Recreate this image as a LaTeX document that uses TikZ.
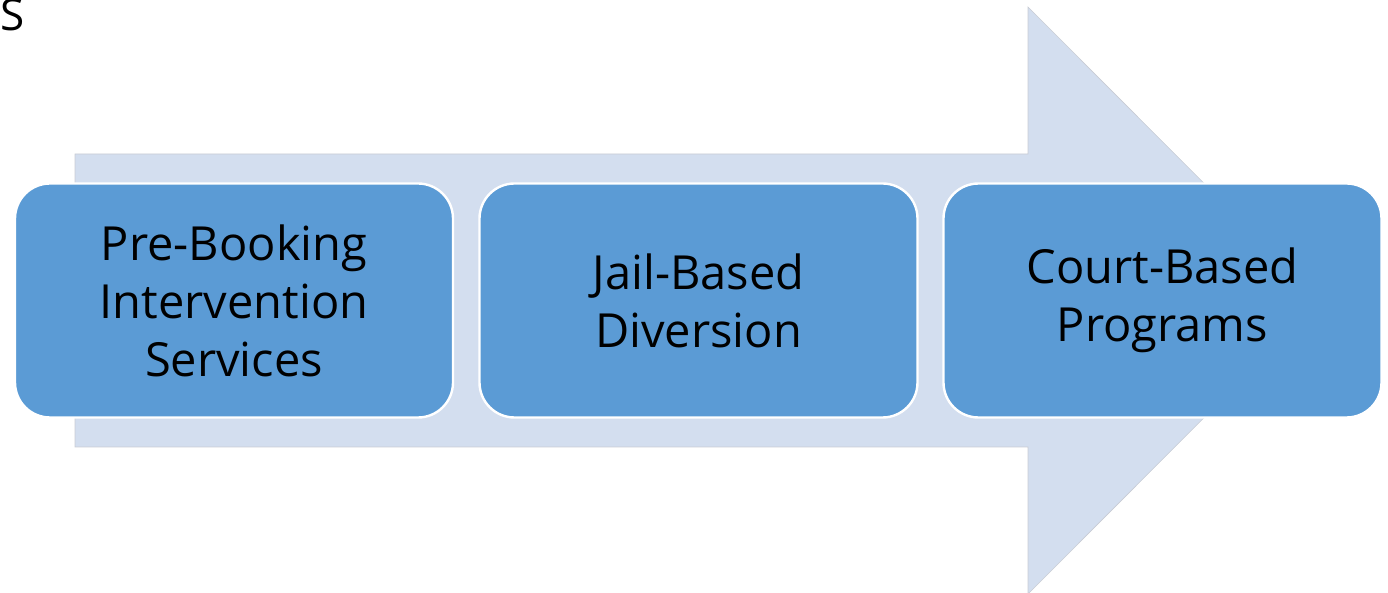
\documentclass[tikz,border=0pt]{standalone}
\usepackage{fontspec}
\setmainfont{Open Sans}
\definecolor{arrowfill}{HTML}{D3DEEF}
\definecolor{boxfill}{HTML}{5B9BD5}
\definecolor{edgegrey}{HTML}{C8CCD4}
\begin{document}
\begin{tikzpicture}[x=0.5pt,y=-0.5pt,
  stage/.style={rounded corners=17.5pt, fill=boxfill, draw=white, line width=1.2pt,
    minimum width=219pt, minimum height=117pt, align=center, inner sep=0pt,
    font=\fontsize{23.5}{29}\selectfont, text=black},
  bigarrow/.style={fill=arrowfill, draw=edgegrey, line width=0.3pt}]
\useasboundingbox (0,0) rectangle (1388,593);
\draw[bigarrow] (75,154) -- (1028,154) -- (1028,7) -- (1321,300.5) -- (1028,594) -- (1028,447) -- (75,447) -- cycle;
\node[stage] (b1) at (234,300.5) {Pre-Booking\\Intervention\\Services};
\node[stage] (b2) at (698.5,300.5) {Jail-Based\\Diversion};
\node[stage] (b3) at (1162.5,300.5) {Court-Based\\Programs};
\node[anchor=base west, inner sep=0pt, font=\fontsize{22}{26}\selectfont] (s) at (0,31) {S};
\end{tikzpicture}
\end{document}
